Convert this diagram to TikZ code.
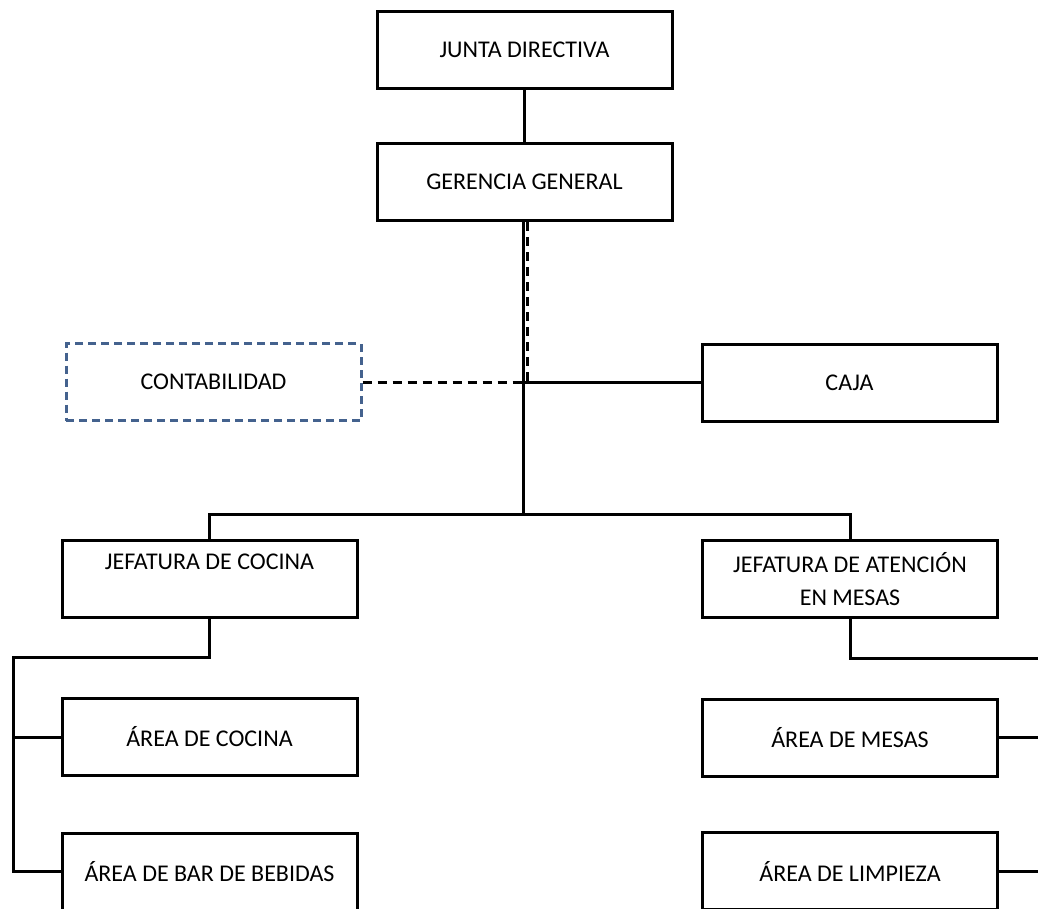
\documentclass[tikz,border=0pt]{standalone}
\usepackage{fontspec}
\setmainfont{Carlito}
\usetikzlibrary{calc}
\definecolor{azulconta}{RGB}{68,98,142}
\tikzset{
    unidad/.style={draw, line width=3pt, minimum width=295pt, minimum height=77pt,
        inner sep=0pt, align=center, font=\fontsize{24}{33}\selectfont},
    unidadpunteada/.style={unidad, draw=azulconta, dash pattern=on 8pt off 5pt},
    enlace/.style={line width=3pt},
    enlacepunteado/.style={line width=3pt, dash pattern=on 9pt off 6pt}
}
\begin{document}
\begin{tikzpicture}[x=1pt, y=-1pt]
    \clip (0,0) rectangle (1038,908);

    % niveles superiores
    \node[unidad] (junta) at (524.5, 50) {JUNTA DIRECTIVA};
    \node[unidad] (gerencia) at (524.5, 182) {GERENCIA GENERAL};
    \node[unidadpunteada] (contab) at (213.5, 382) {CONTABILIDAD};
    \node[unidad] (caja) at (849.5, 382.5) {CAJA};

    % jefaturas
    \node[unidad] (jcocina) at (209.5, 578.5) {JEFATURA DE COCINA\\ \mbox{}};
    \node[unidad] (jmesas) at (850, 579) {JEFATURA DE ATENCIÓN\\EN MESAS};

    % areas
    \node[unidad] (acocina) at (209.5, 737) {ÁREA DE COCINA};
    \node[unidad] (abar) at (209.5, 871.5) {ÁREA DE BAR DE BEBIDAS};
    \node[unidad] (amesas) at (850, 737.5) {ÁREA DE MESAS};
    \node[unidad] (alimpieza) at (850, 871) {ÁREA DE LIMPIEZA};

    \coordinate (bus) at (523.5, 514);
    \coordinate (izq) at (13, 657);
    \coordinate (der) at (1045, 658);
    \coordinate (finpunteado) at (527, 382);

    \draw[enlace] (junta) -- (gerencia);
    \draw[enlace] (gerencia.south -| bus) -- (bus);
    \draw[enlacepunteado] (gerencia.south -| finpunteado) -- (finpunteado);
    \draw[enlacepunteado] (contab.east) -- (contab.east -| bus);
    \draw[enlace] (caja.west) -- (caja.west -| bus);
    \draw[enlace] (jcocina.north) |- (bus) -| (jmesas.north);

    \draw[enlace] (jcocina.south) |- (izq) |- (abar.west);
    \draw[enlace] (acocina.west) -- (acocina.west -| izq);
    \draw[enlace] (jmesas.south) |- (der);
    \draw[enlace] (amesas.east) -- (amesas.east -| der);
    \draw[enlace] (alimpieza.east) -- (alimpieza.east -| der);
\end{tikzpicture}
\end{document}
